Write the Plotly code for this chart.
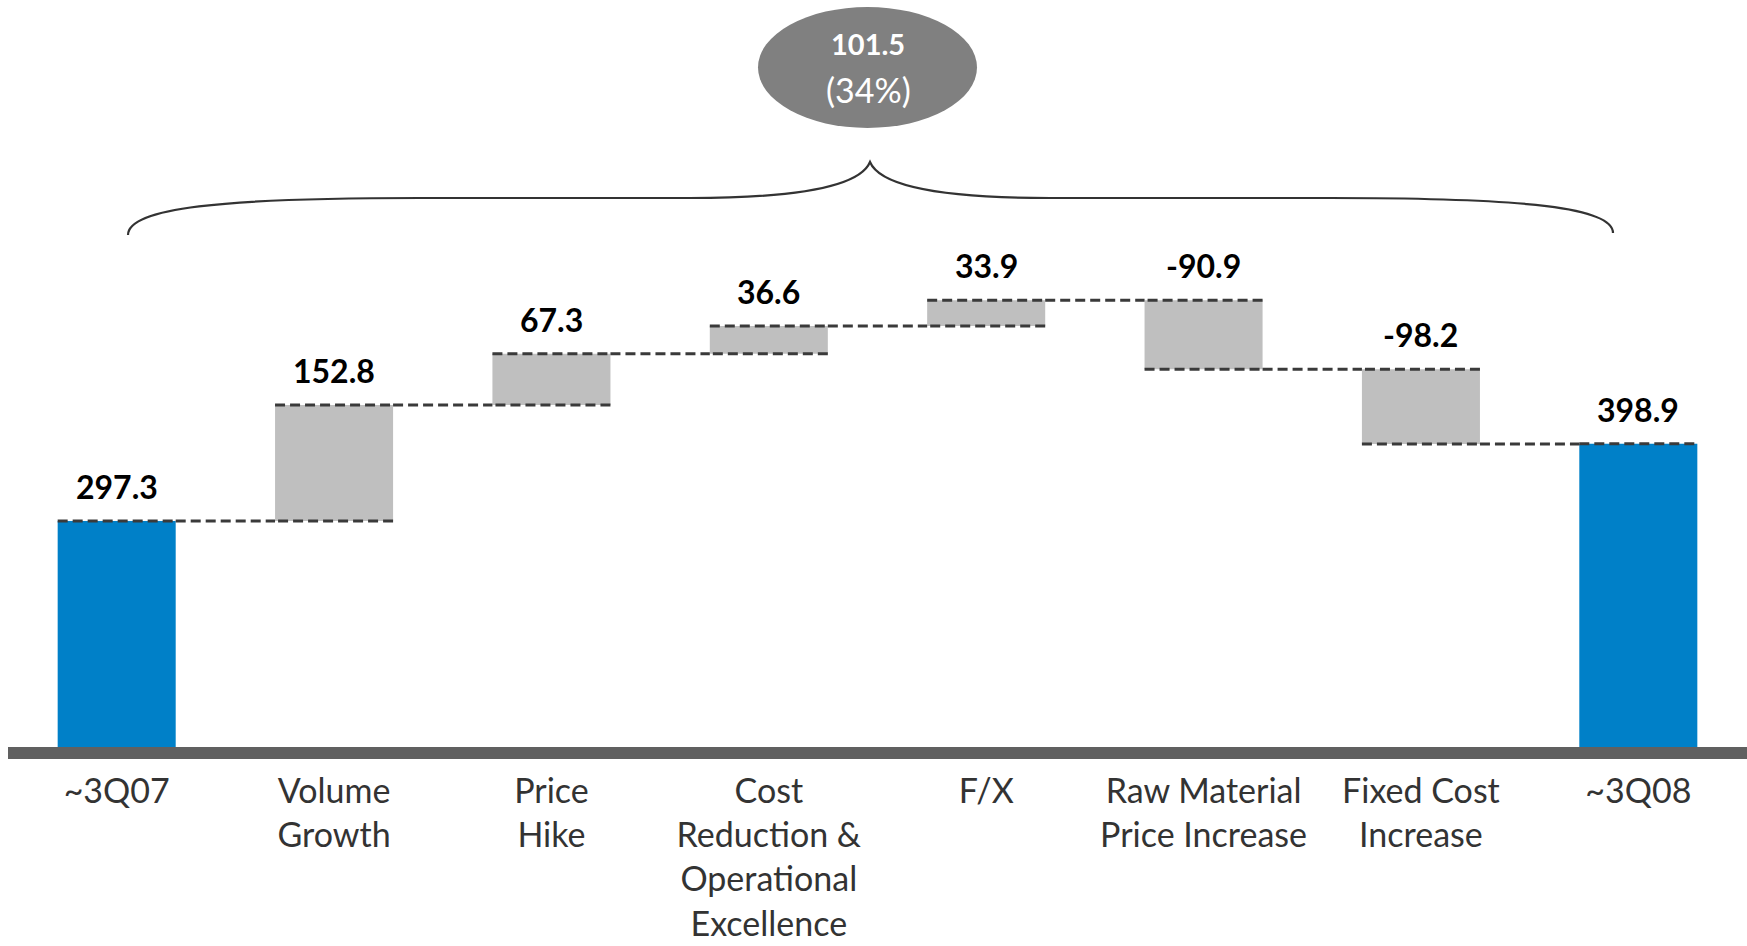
import plotly.graph_objects as go

# Operating income bridge, ~3Q07 to ~3Q08
categories = [
    "~3Q07",
    "Volume<br>Growth",
    "Price<br>Hike",
    "Cost<br>Reduction &<br>Operational<br>Excellence",
    "F/X",
    "Raw Material<br>Price Increase",
    "Fixed Cost<br>Increase",
    "~3Q08",
]
values = [297.3, 152.8, 67.3, 36.6, 33.9, -90.9, -98.2, 398.9]
measures = ["absolute", "relative", "relative", "relative", "relative", "relative", "relative", "absolute"]
value_labels = ["297.3", "152.8", "67.3", "36.6", "33.9", "-90.9", "-98.2", "398.9"]

W, H = 1747, 946
M_L, M_R, M_T, M_B = 8, 0, 0, 199
PLOT_W = W - M_L - M_R
PLOT_H = H - M_T - M_B
Y_MAX = 983

BLUE = "#0080C8"
GREY = "#BFBFBF"
FONT = "Lato"


def px_x(x):
    return (x - M_L) / PLOT_W


def px_y(y):
    return (M_T + PLOT_H - y) / PLOT_H


# bar tops, for the value labels
tops = []
level = 0.0
for v, m in zip(values, measures):
    if m == "absolute":
        level = v
        tops.append(v)
    else:
        tops.append(max(level, level + v))
        level += v

fig = go.Figure(
    go.Waterfall(
        x=categories,
        y=values,
        measure=measures,
        increasing=dict(marker=dict(color=GREY)),
        decreasing=dict(marker=dict(color=GREY)),
        totals=dict(marker=dict(color=BLUE)),
        connector=dict(mode="spanning", line=dict(color="#3a3a3a", width=3, dash="10px,5px")),
        textinfo="none",
        hoverinfo="skip",
    )
)

annotations = []
for i, (t, lab) in enumerate(zip(tops, value_labels)):
    annotations.append(dict(
        x=i, y=t, xref="x", yref="y", text=lab, showarrow=False,
        xanchor="center", yanchor="bottom", yshift=13,
        font=dict(family=FONT, size=32, color="#000000", weight="bold"),
    ))

# overall change between the two periods
change = sum(values[1:-1])
pct = change / values[0] * 100

ell_cx = 868
annotations.append(dict(
    x=px_x(ell_cx), y=px_y(44), xref="paper", yref="paper", showarrow=False,
    xanchor="center", yanchor="middle",
    text=f"{change:.1f}", font=dict(family=FONT, size=29, color="white", weight="bold"),
))
annotations.append(dict(
    x=px_x(ell_cx), y=px_y(89), xref="paper", yref="paper", showarrow=False,
    xanchor="center", yanchor="middle",
    text=f"({pct:.0f}%)", font=dict(family=FONT, size=34, color="white"),
))


def path(points):
    out = []
    for cmd, coords in points:
        pts = " ".join(f"{px_x(x):.5f},{px_y(y):.5f}" for x, y in coords)
        out.append(f"{cmd} {pts}")
    return " ".join(out)


brace = path([
    ("M", [(128, 235)]),
    ("C", [(128, 208), (220, 198), (420, 198)]),
    ("L", [(690, 198)]),
    ("C", [(800, 198), (860, 186), (870, 162)]),
    ("C", [(880, 186), (940, 198), (1050, 198)]),
    ("L", [(1330, 198)]),
    ("C", [(1530, 198), (1613, 208), (1613, 233)]),
])

shapes = [
    dict(type="path", xref="paper", yref="paper", path=brace,
         line=dict(color="#333333", width=2.2)),
    dict(type="circle", xref="paper", yref="paper",
         x0=px_x(758), x1=px_x(977), y0=px_y(128), y1=px_y(7),
         fillcolor="#808080", line=dict(width=0), layer="below"),
    dict(type="rect", xref="paper", yref="paper",
         x0=0, x1=1, y0=0, y1=-12 / PLOT_H,
         fillcolor="#606060", line=dict(width=0)),
]

fig.update_layout(
    width=W, height=H,
    margin=dict(l=M_L, r=M_R, t=M_T, b=M_B, autoexpand=False),
    paper_bgcolor="white", plot_bgcolor="white",
    showlegend=False,
    waterfallgap=0.457,
    annotations=annotations,
    shapes=shapes,
    xaxis=dict(
        type="category", range=[-0.5, 7.5], showgrid=False, zeroline=False,
        showline=False, ticks="", ticklabelstandoff=21,
        tickfont=dict(family=FONT, size=34, color="#333333"),
    ),
    yaxis=dict(range=[0, Y_MAX], visible=False, showgrid=False, zeroline=False),
)

fig.write_html("out.html", config={"displayModeBar": False})
